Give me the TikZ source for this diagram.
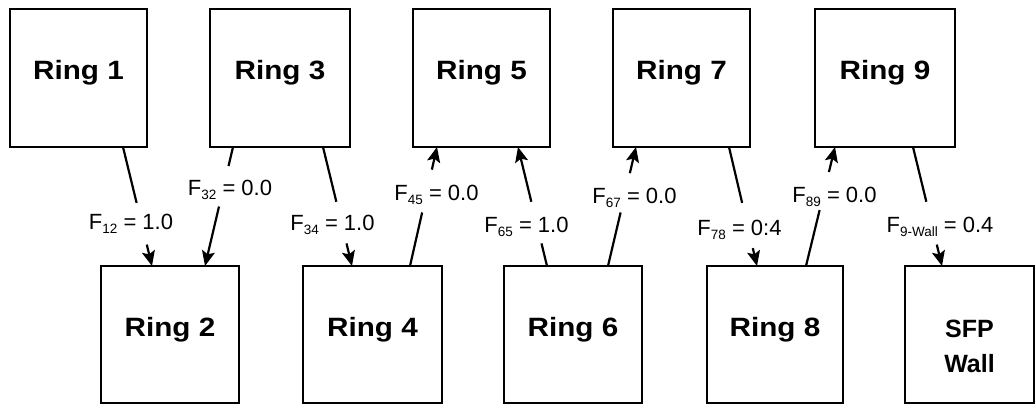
\documentclass[tikz,border=0pt]{standalone}
\usepackage{fontspec}
\usepackage{graphicx}
\setmainfont{Liberation Sans}
\usetikzlibrary{arrows.meta,calc}

% subscript of a view-factor label
\newcommand\fsub[1]{\raisebox{-4pt}{\fontsize{13.5}{13.5}\selectfont #1}}
% ring captions are set a little wide
\newcommand\ringtext[1]{\scalebox{1.12}[1]{#1}}
% a connector with a break where its label sits: tail, head, break start, break end
\newcommand\gapline[4]{%
  \draw[conn] (#1) -- ($(#1)!#3!(#2)$);
  \draw[conn,-{Stealth[length=15pt,width=13pt,inset=3pt]}] ($(#1)!#4!(#2)$) -- (#2);}

\begin{document}
\begin{tikzpicture}[x=1pt,y=-1pt,
  ringbox/.style={draw, line width=2.2pt, inner sep=0pt, outer sep=0pt,
    font=\bfseries\fontsize{26.5}{30}\selectfont,
    text height=19pt, text depth=16pt},
  topbox/.style={ringbox, minimum height=138pt},
  lowbox/.style={ringbox, minimum height=137pt},
  conn/.style={line width=2.2pt},
  flabel/.style={anchor=base, inner sep=0pt, font=\fontsize{22}{26}\selectfont}]

\fill[white] (0,0) rectangle (1036,404);
\useasboundingbox (0,0) rectangle (1036,404);

% upper row
\node[topbox, minimum width=137pt] (r1) at (78.5,78)  {\ringtext{Ring 1}};
\node[topbox, minimum width=140pt] (r3) at (280,78)   {\ringtext{Ring 3}};
\node[topbox, minimum width=137pt] (r5) at (481.5,78) {\ringtext{Ring 5}};
\node[topbox, minimum width=137pt] (r7) at (681.5,78) {\ringtext{Ring 7}};
\node[topbox, minimum width=140pt] (r9) at (885,78)   {\ringtext{Ring 9}};

% lower row
\node[lowbox, minimum width=138pt] (r2) at (170,334.5)   {\ringtext{Ring 2}};
\node[lowbox, minimum width=139pt] (r4) at (372.5,334.5) {\ringtext{Ring 4}};
\node[lowbox, minimum width=138pt] (r6) at (573,334.5)   {\ringtext{Ring 6}};
\node[lowbox, minimum width=136pt] (r8) at (775,334.5)   {\ringtext{Ring 8}};
\node[lowbox, minimum width=129pt, align=center, font=\bfseries\fontsize{25}{30}\selectfont,
      text height=75pt, text depth=0pt] (wall) at (969.5,334.5) {SFP\\[5pt]Wall};

% connector end points on the box edges
\coordinate (t12) at ([xshift=44.5pt]r1.south);  \coordinate (h12) at ([xshift=-18pt]r2.north);
\coordinate (t32) at ([xshift=-47pt]r3.south);   \coordinate (h32) at ([xshift=35pt]r2.north);
\coordinate (t34) at ([xshift=43pt]r3.south);    \coordinate (h34) at ([xshift=-20.5pt]r4.north);
\coordinate (t45) at ([xshift=37.5pt]r4.north);  \coordinate (h45) at ([xshift=-44.5pt]r5.south);
\coordinate (t65) at ([xshift=-26pt]r6.north);   \coordinate (h65) at ([xshift=36.5pt]r5.south);
\coordinate (t67) at ([xshift=35pt]r6.north);    \coordinate (h67) at ([xshift=-45.5pt]r7.south);
\coordinate (t78) at ([xshift=47.5pt]r7.south);  \coordinate (h78) at ([xshift=-18pt]r8.north);
\coordinate (t89) at ([xshift=31pt]r8.north);    \coordinate (h89) at ([xshift=-50pt]r9.south);
\coordinate (t9w) at ([xshift=28pt]r9.south);    \coordinate (h9w) at ([xshift=-27.5pt]wall.north);

\gapline{t12}{h12}{0.47}{0.82}
\gapline{t32}{h32}{0.16}{0.50}
\gapline{t34}{h34}{0.46}{0.81}
\gapline{t45}{h45}{0.45}{0.81}
\gapline{t65}{h65}{0.19}{0.54}
\gapline{t67}{h67}{0.45}{0.78}
\gapline{t78}{h78}{0.47}{0.85}
\gapline{t89}{h89}{0.47}{0.79}
\gapline{t9w}{h9w}{0.46}{0.82}

% view-factor labels
\node[flabel] (l12) at (131,229)   {F\fsub{12} = 1.0};
\node[flabel] (l32) at (230,195)   {F\fsub{32} = 0.0};
\node[flabel] (l34) at (332.5,230) {F\fsub{34} = 1.0};
\node[flabel] (l45) at (436.5,200) {F\fsub{45} = 0.0};
\node[flabel] (l65) at (526.5,232) {F\fsub{65} = 1.0};
\node[flabel] (l67) at (634.5,203) {F\fsub{67} = 0.0};
\node[flabel] (l78) at (739.5,235) {F\fsub{78} = 0:4};
\node[flabel] (l89) at (834.5,202) {F\fsub{89} = 0.0};
\node[flabel] (l9w) at (940,232)   {F\fsub{9-Wall} = 0.4};
\end{tikzpicture}
\end{document}
